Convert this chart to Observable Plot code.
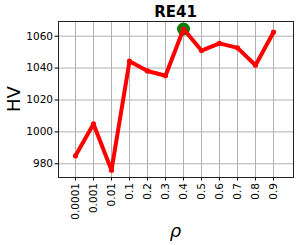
<!DOCTYPE html>
<html>
<head>
<meta charset="utf-8">
<script src="https://cdn.jsdelivr.net/npm/d3@7"></script>
<script src="https://cdn.jsdelivr.net/npm/@observablehq/plot@0.6"></script>
<style>
  html, body { margin: 0; padding: 0; background: #fff; }
  svg { display: block; }
</style>
</head>
<body>
<div id="chart"></div>
<script>
const rho = ["0.0001","0.001","0.01","0.1","0.2","0.3","0.4","0.5","0.6","0.7","0.8","0.9"];
const hv = [985, 1005, 976, 1044.3, 1038.2, 1035.2, 1064.5, 1051, 1055.5, 1052.7, 1041.8, 1062.5];
const yTicks = [980, 1000, 1020, 1040, 1060];
const bestIndex = 6;

const data = rho.map((r, i) => ({rho: r, hv: hv[i]}));
const best = [data[bestIndex]];

const W = 299, H = 245;
const mL = 58, mR = 6, mT = 21, mB = 68;

const chart = Plot.plot({
  width: W,
  height: H,
  marginLeft: mL,
  marginRight: mR,
  marginTop: mT,
  marginBottom: mB,
  style: {fontFamily: "DejaVu Sans", fontSize: "10px", color: "#000", background: "#fff"},
  x: {type: "point", domain: rho, range: [65.3, 282]},
  y: {domain: [971.4, 1069.2]},
  marks: [
    Plot.gridX(rho, {stroke: "#b0b0b0", strokeOpacity: 1, strokeWidth: 1}),
    Plot.gridY(yTicks, {stroke: "#b0b0b0", strokeOpacity: 1, strokeWidth: 1}),
    Plot.axisX(rho, {tickRotate: -90, tickSize: 3.5, tickPadding: 2, label: null, fontSize: 10.5}),
    Plot.axisY(yTicks, {tickSize: 3.5, tickPadding: 2, label: null, fontSize: 10.5, tickFormat: d => String(d)}),
    Plot.frame({stroke: "#222", strokeWidth: 1}),
    Plot.dot(best, {x: "rho", y: "hv", r: 6.5, fill: "#008000", stroke: "none"}),
    Plot.dot(best, {x: "rho", y: "hv", r: 2.8, fill: "#1f77b4", stroke: "none"}),
    Plot.line(data, {x: "rho", y: "hv", stroke: "#ff0000", strokeWidth: 4, strokeLinejoin: "round", strokeLinecap: "round"}),
    Plot.dot(data, {x: "rho", y: "hv", r: 2.6, fill: "#ff0000", stroke: "none"})
  ]
});

const svg = d3.select(chart);
svg.append("text")
  .attr("x", (mL + (W - mR)) / 2)
  .attr("y", 17)
  .attr("text-anchor", "middle")
  .attr("font-family", "DejaVu Sans")
  .attr("font-weight", "bold")
  .attr("font-size", 15)
  .attr("fill", "#000")
  .text("RE41");
svg.append("text")
  .attr("transform", `translate(20,${(mT + H - mB) / 2}) rotate(-90)`)
  .attr("text-anchor", "middle")
  .attr("font-family", "DejaVu Sans")
  .attr("font-size", 18)
  .attr("fill", "#000")
  .text("HV");
svg.append("text")
  .attr("x", (mL + (W - mR)) / 2)
  .attr("y", 237)
  .attr("text-anchor", "middle")
  .attr("font-family", "DejaVu Sans")
  .attr("font-style", "italic")
  .attr("font-size", 18)
  .attr("fill", "#000")
  .text("ρ");

document.getElementById("chart").appendChild(chart);
</script>
</body>
</html>
